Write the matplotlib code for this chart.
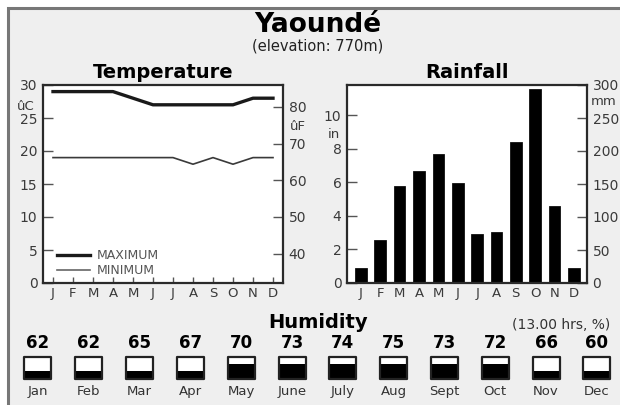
import numpy as np
import matplotlib
matplotlib.use("Agg")
import matplotlib.pyplot as plt
from matplotlib.patches import Rectangle
from matplotlib.lines import Line2D

# ---------------- data ----------------
city = "Yaoundé"
elevation = "(elevation: 770m)"
month_initials = ["J", "F", "M", "A", "M", "J", "J", "A", "S", "O", "N", "D"]
month_names = ["Jan", "Feb", "Mar", "Apr", "May", "June", "July", "Aug", "Sept", "Oct", "Nov", "Dec"]
temp_max_c = [29, 29, 29, 29, 28, 27, 27, 27, 27, 27, 28, 28]
temp_min_c = [19, 19, 19, 19, 19, 19, 19, 18, 19, 18, 19, 19]
rain_mm = [22, 65, 147, 169, 195, 151, 74, 78, 213, 294, 117, 22]
humidity = [62, 62, 65, 67, 70, 73, 74, 75, 73, 72, 66, 60]
temp_c_ticks = [0, 5, 10, 15, 20, 25, 30]
temp_f_ticks = [40, 50, 60, 70, 80]
rain_in_ticks = [0, 2, 4, 6, 8, 10]
rain_mm_ticks = [0, 50, 100, 150, 200, 250, 300]

W, H = 620, 405
fig = plt.figure(figsize=(W / 100, H / 100), dpi=100)
fig.patch.set_facecolor("white")
plt.rcParams["font.family"] = ["DejaVu Sans"]

def fx(x):
    return x / W

def fy(y):
    return 1 - y / H

DARK = "#2a2a2a"
TXT = "#3a3a3a"

# outer panel
panel = Rectangle((fx(8), -0.2), 1.2, fy(8) + 0.2, transform=fig.transFigure,
                  facecolor="#efefef", edgecolor="#777777", linewidth=2.2, zorder=-10)
fig.patches.append(panel)

fig.text(fx(318), fy(25), city, ha="center", va="center", fontsize=19,
         fontweight="bold", color="black")
fig.text(fx(318), fy(46), elevation, ha="center", va="center", fontsize=10.5,
         color="#222222")

x = np.arange(12)

def style_axes(ax):
    ax.set_facecolor("white")
    for s in ax.spines.values():
        s.set_color(DARK)
        s.set_linewidth(1.6)

# ---------------- temperature ----------------
ax1 = fig.add_axes([fx(43), fy(283), fx(240), 198 / H])
style_axes(ax1)
ax1.plot(x, temp_max_c, color="#1a1a1a", lw=2.4, solid_joinstyle="round")
ax1.plot(x, temp_min_c, color="#3a3a3a", lw=1.2)
ax1.set_xlim(-0.5, 11.5)
ax1.set_ylim(0, 30)
ax1.set_yticks(temp_c_ticks)
ax1.set_xticks(x)
ax1.set_xticklabels(month_initials)
ax1.tick_params(axis="y", direction="in", length=7, width=1, color="#555555",
                labelsize=10, labelcolor=TXT, pad=4)
ax1.tick_params(axis="x", direction="in", length=4, width=1, color="#555555",
                labelsize=9.5, labelcolor=TXT, pad=3)

c2f = lambda c: c * 9 / 5 + 32
f2c = lambda f: (f - 32) * 5 / 9
sec1 = ax1.secondary_yaxis("right", functions=(c2f, f2c))
sec1.set_yticks(temp_f_ticks)
sec1.tick_params(direction="in", length=7, width=1, color="#555555",
                 labelsize=10, labelcolor=TXT, pad=4)
sec1.spines["right"].set_visible(False)

fig.text(fx(26), fy(107), "ûC", ha="center", va="center", fontsize=9.5, color=TXT)
fig.text(fx(298), fy(127), "ûF", ha="center", va="center", fontsize=9.5, color=TXT)
fig.text(fx(163), fy(73), "Temperature", ha="center", va="center", fontsize=14,
         fontweight="bold", color="black")

handles = [Line2D([], [], color="#1a1a1a", lw=2.4),
           Line2D([], [], color="#666666", lw=1.2)]
leg = ax1.legend(handles, ["MAXIMUM", "MINIMUM"], loc="lower left",
                 bbox_to_anchor=(14 / 240, 6 / 198), frameon=False,
                 fontsize=9, handlelength=2.6, handletextpad=0.6,
                 labelspacing=0.15, borderpad=0, borderaxespad=0)
for t in leg.get_texts():
    t.set_color("#555555")

# ---------------- rainfall ----------------
ax2 = fig.add_axes([fx(347), fy(283), fx(240), 198 / H])
style_axes(ax2)
ax2.bar(x, rain_mm, width=0.6, color="black", edgecolor="#111111", linewidth=0.6)
ax2.set_xlim(-0.72, 11.68)
ax2.set_ylim(0, 300)
ax2.set_xticks(x)
ax2.set_xticklabels(month_initials)
ax2.yaxis.tick_right()
ax2.set_yticks(rain_mm_ticks)
ax2.tick_params(axis="y", direction="in", length=7, width=1, color="#555555",
                labelsize=10, labelcolor=TXT, pad=4)
ax2.tick_params(axis="x", direction="in", length=0, labelsize=9.5,
                labelcolor=TXT, pad=3)

mm2in = lambda m: m / 25.4
in2mm = lambda i: i * 25.4
sec2 = ax2.secondary_yaxis("left", functions=(mm2in, in2mm))
sec2.set_yticks(rain_in_ticks)
sec2.tick_params(direction="in", length=7, width=1, color="#555555",
                 labelsize=10, labelcolor=TXT, pad=4)
sec2.spines["left"].set_visible(False)

fig.text(fx(334), fy(134), "in", ha="center", va="center", fontsize=9.5, color=TXT)
fig.text(fx(604), fy(102), "mm", ha="center", va="center", fontsize=9.5, color=TXT)
fig.text(fx(467), fy(73), "Rainfall", ha="center", va="center", fontsize=14,
         fontweight="bold", color="black")

# ---------------- humidity ----------------
fig.text(fx(318), fy(323), "Humidity", ha="center", va="center", fontsize=14,
         fontweight="bold", color="black")
fig.text(fx(610), fy(325), "(13.00 hrs, %)", ha="right", va="center",
         fontsize=10, color="#333333")

hx0, hdx = 38, 50.8
axh = fig.add_axes([0, 0, 1, 105 / H])
axh.set_xlim(-hx0 / hdx, (W - hx0) / hdx)
axh.set_ylim(H, H - 105)
axh.axis("off")
fill = np.where(np.array(humidity) >= 70, 0.70, 0.36)
bw = 27 / hdx
btop, bbot = 357, 379
for i, (h, f) in enumerate(zip(humidity, fill)):
    axh.text(i, 343, str(h), ha="center", va="center", fontsize=12,
             fontweight="bold", color="black")
    axh.add_patch(Rectangle((i - bw / 2, btop), bw, bbot - btop,
                            facecolor="white", edgecolor="none"))
    fh = (bbot - btop) * f
    axh.add_patch(Rectangle((i - bw / 2, bbot - fh), bw, fh,
                            facecolor="black", edgecolor="none"))
    axh.add_patch(Rectangle((i - bw / 2, btop), bw, bbot - btop,
                            facecolor="none", edgecolor="#222222", linewidth=1.6,
                            joinstyle="round"))
    axh.text(i, 392, month_names[i], ha="center", va="center", fontsize=9.5,
             color="#333333")

fig.savefig("out.png", dpi=100, facecolor=fig.get_facecolor())
